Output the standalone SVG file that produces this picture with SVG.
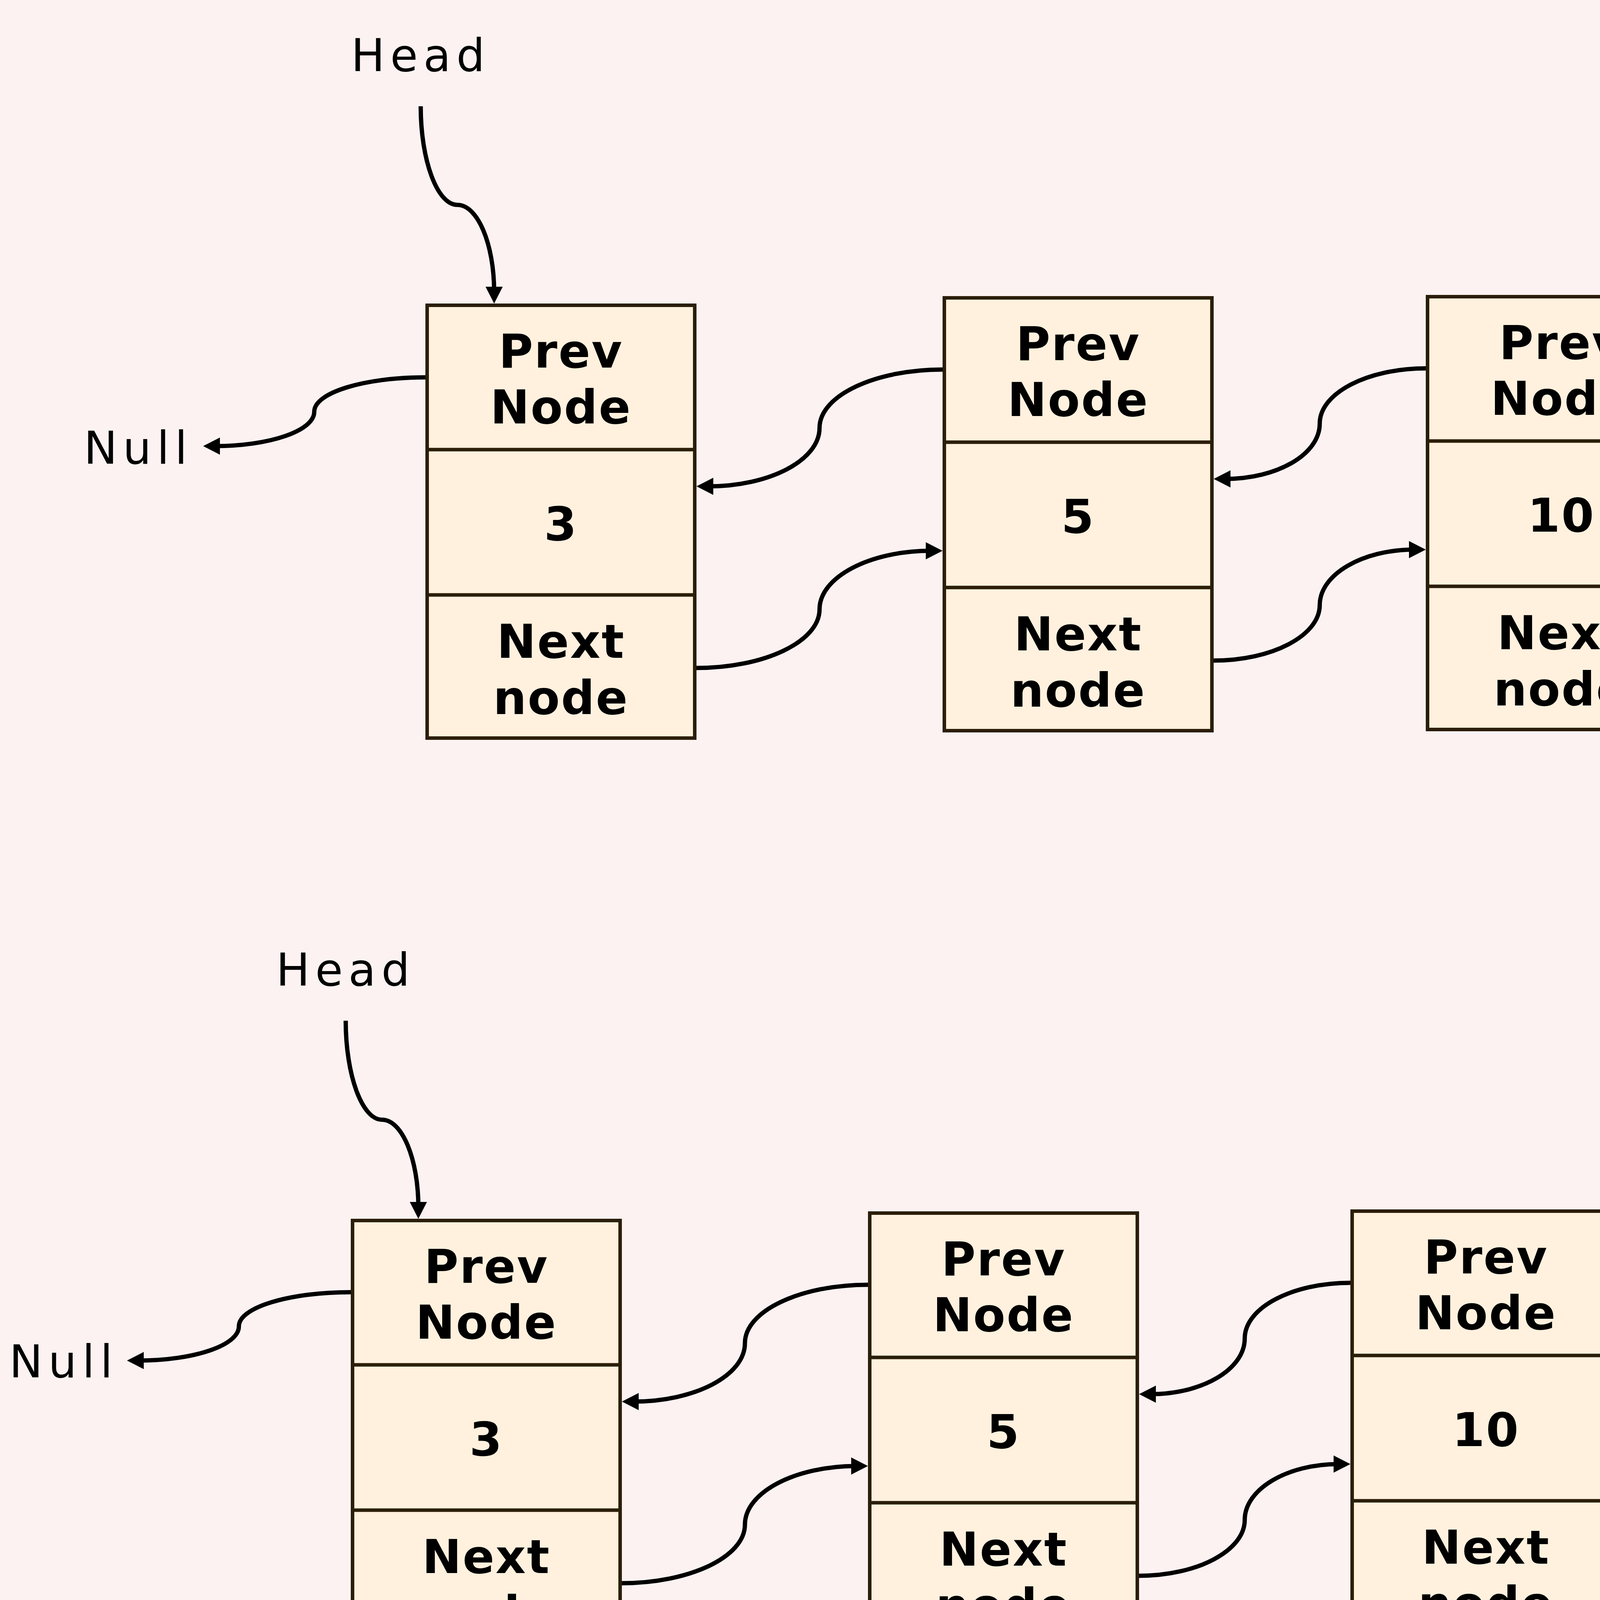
<svg xmlns="http://www.w3.org/2000/svg" width="7452" height="4242" viewBox="0 0 7452 4242">
<style>
.box{fill:#FFF1DE;stroke:#2B1E08;stroke-width:9}
.div{stroke:#2B1E08;stroke-width:9}
.t{font-family:"DejaVu Sans","Liberation Sans",sans-serif;font-weight:bold;font-size:120px;text-anchor:middle;fill:#000;letter-spacing:3px}
.lbl{font-family:"DejaVu Sans","Liberation Sans",sans-serif;font-size:115px;text-anchor:middle;fill:#000;letter-spacing:14px}
.c{fill:none;stroke:#000;stroke-width:11;marker-end:url(#ah)}
</style>
<defs>
<marker id="ah" markerUnits="userSpaceOnUse" markerWidth="43" markerHeight="44" refX="13" refY="22" orient="auto" overflow="visible">
<path d="M0,0 L43,22 L0,44 Z" fill="#000"/>
</marker>
</defs>
<rect x="0" y="0" width="7452" height="4242" fill="#FCF2F2"/>

<g id="labels">
<text class="lbl" x="1077" y="182">Head</text>
<text class="lbl" x="4953" y="227" style="letter-spacing:10px">Tail</text>
<text class="lbl" x="354" y="1187">Null</text>
<text class="lbl" x="6216" y="1490">Null</text>
<text class="lbl" x="885" y="2523">Head</text>
<text class="lbl" x="163" y="3526">Null</text>
<text class="lbl" x="6710" y="2343">enqueue(20)</text>
<text class="lbl" x="6664" y="2621" style="letter-spacing:10px">Tail</text>
<text class="lbl" x="7291" y="3767">Null</text>
</g>

<g id="top-node-1">
<rect class="box" x="1093.5" y="781.5" width="685" height="1108"/>
<line class="div" x1="1089" y1="1151" x2="1783" y2="1151"/>
<line class="div" x1="1089" y1="1523" x2="1783" y2="1523"/>
<text class="t" x="1436" y="941">Prev</text>
<text class="t" x="1436" y="1084">Node</text>
<text class="t" x="1436" y="1383">3</text>
<text class="t" x="1436" y="1684">Next</text>
<text class="t" x="1436" y="1828">node</text>
</g>
<g id="top-node-2">
<rect class="box" x="2417.5" y="762.5" width="685" height="1108"/>
<line class="div" x1="2413" y1="1132" x2="3107" y2="1132"/>
<line class="div" x1="2413" y1="1504" x2="3107" y2="1504"/>
<text class="t" x="2760" y="922">Prev</text>
<text class="t" x="2760" y="1065">Node</text>
<text class="t" x="2760" y="1364">5</text>
<text class="t" x="2760" y="1665">Next</text>
<text class="t" x="2760" y="1809">node</text>
</g>
<g id="top-node-3">
<rect class="box" x="3654.5" y="759.5" width="685" height="1108"/>
<line class="div" x1="3650" y1="1129" x2="4344" y2="1129"/>
<line class="div" x1="3650" y1="1501" x2="4344" y2="1501"/>
<text class="t" x="3997" y="919">Prev</text>
<text class="t" x="3997" y="1062">Node</text>
<text class="t" x="3997" y="1361">10</text>
<text class="t" x="3997" y="1662">Next</text>
<text class="t" x="3997" y="1806">node</text>
</g>
<g id="top-node-4">
<rect class="box" x="4897.5" y="739.5" width="685" height="1108"/>
<line class="div" x1="4893" y1="1109" x2="5587" y2="1109"/>
<line class="div" x1="4893" y1="1481" x2="5587" y2="1481"/>
<text class="t" x="5240" y="899">Prev</text>
<text class="t" x="5240" y="1042">Node</text>
<text class="t" x="5240" y="1341">14</text>
<text class="t" x="5240" y="1642">Next</text>
<text class="t" x="5240" y="1786">node</text>
</g>

<g id="bottom-node-1">
<rect class="box" x="902.5" y="3124.5" width="685" height="1108"/>
<line class="div" x1="898" y1="3494" x2="1592" y2="3494"/>
<line class="div" x1="898" y1="3866" x2="1592" y2="3866"/>
<text class="t" x="1245" y="3284">Prev</text>
<text class="t" x="1245" y="3427">Node</text>
<text class="t" x="1245" y="3726">3</text>
<text class="t" x="1245" y="4027">Next</text>
<text class="t" x="1245" y="4171">node</text>
</g>
<g id="bottom-node-2">
<rect class="box" x="2226.5" y="3105.5" width="685" height="1108"/>
<line class="div" x1="2222" y1="3475" x2="2916" y2="3475"/>
<line class="div" x1="2222" y1="3847" x2="2916" y2="3847"/>
<text class="t" x="2569" y="3265">Prev</text>
<text class="t" x="2569" y="3408">Node</text>
<text class="t" x="2569" y="3707">5</text>
<text class="t" x="2569" y="4008">Next</text>
<text class="t" x="2569" y="4152">node</text>
</g>
<g id="bottom-node-3">
<rect class="box" x="3461.5" y="3100.5" width="685" height="1108"/>
<line class="div" x1="3457" y1="3470" x2="4151" y2="3470"/>
<line class="div" x1="3457" y1="3842" x2="4151" y2="3842"/>
<text class="t" x="3804" y="3260">Prev</text>
<text class="t" x="3804" y="3403">Node</text>
<text class="t" x="3804" y="3702">10</text>
<text class="t" x="3804" y="4003">Next</text>
<text class="t" x="3804" y="4147">node</text>
</g>
<g id="bottom-node-4">
<rect class="box" x="4705.5" y="3079.5" width="685" height="1108"/>
<line class="div" x1="4701" y1="3449" x2="5395" y2="3449"/>
<line class="div" x1="4701" y1="3821" x2="5395" y2="3821"/>
<text class="t" x="5048" y="3239">Prev</text>
<text class="t" x="5048" y="3382">Node</text>
<text class="t" x="5048" y="3681">14</text>
<text class="t" x="5048" y="3982">Next</text>
<text class="t" x="5048" y="4126">node</text>
</g>
<g id="bottom-node-5">
<rect class="box" x="5992.5" y="3115.5" width="685" height="1108"/>
<line class="div" x1="5988" y1="3485" x2="6682" y2="3485"/>
<line class="div" x1="5988" y1="3857" x2="6682" y2="3857"/>
<text class="t" x="6335" y="3275">Prev</text>
<text class="t" x="6335" y="3418">Node</text>
<text class="t" x="6335" y="3717">20</text>
<text class="t" x="6335" y="4018">Next</text>
<text class="t" x="6335" y="4162">node</text>
</g>

<g id="connectors">
<path class="c" d="M1077 272 C1077 410.9 1119.3 524.5 1171 524.5 C1222.7 524.5 1265 624.6 1265 747"/>
<path class="c" d="M1089 966 C932.5 966 804.5 1005 804.5 1054 C804.5 1103 690 1142 550 1142"/>
<path class="c" d="M2413 946 C2239.8 946 2098 1012.7 2098 1095.5 C2098 1178.3 1969.8 1245 1813 1245"/>
<path class="c" d="M1783 1710 C1956.3 1710 2098 1642.5 2098 1560 C2098 1477.5 2226.3 1410 2383 1410"/>
<path class="c" d="M3650 943 C3500.7 943 3378.5 1006.1 3378.5 1084.5 C3378.5 1162.9 3269.8 1226 3137 1226"/>
<path class="c" d="M3107 1691 C3256.3 1691 3378.5 1627.1 3378.5 1549 C3378.5 1470.9 3487.2 1407 3620 1407"/>
<path class="c" d="M4893 923 C4742 923 4618.5 990 4618.5 1073 C4618.5 1156 4508.5 1223 4374 1223"/>
<path class="c" d="M4344 1688 C4495 1688 4618.5 1620.3 4618.5 1537.5 C4618.5 1454.7 4728.5 1387 4863 1387"/>
<path class="c" d="M4955 319 C4955 433.4 5019.1 527 5097.5 527 C5175.9 527 5240 607.1 5240 705"/>
<path class="c" d="M5587 1670 C5715.7 1670 5821 1634.5 5821 1591 C5821 1547.5 5912.8 1512 6025 1512"/>

<path class="c" d="M885 2613 C885 2752.4 926.9 2866.5 978 2866.5 C1029.2 2866.5 1071 2967.1 1071 3090"/>
<path class="c" d="M898 3308 C740.4 3308 611.5 3346.8 611.5 3395.5 C611.5 3444.2 496.1 3483 355 3483"/>
<path class="c" d="M2222 3289 C2048.8 3289 1907 3355.7 1907 3438.5 C1907 3521.3 1778.8 3588 1622 3588"/>
<path class="c" d="M1592 4053 C1765.3 4053 1907 3985.5 1907 3903 C1907 3820.5 2035.3 3753 2192 3753"/>
<path class="c" d="M3457 3284 C3308.2 3284 3186.5 3347.6 3186.5 3426.5 C3186.5 3505.4 3078.3 3569 2946 3569"/>
<path class="c" d="M2916 4034 C3064.8 4034 3186.5 3969.7 3186.5 3891 C3186.5 3812.4 3294.7 3748 3427 3748"/>
<path class="c" d="M4701 3263 C4549.8 3263 4426 3330.2 4426 3413.5 C4426 3496.8 4315.8 3564 4181 3564"/>
<path class="c" d="M4151 4029 C4302.3 4029 4426 3961 4426 3878 C4426 3795 4536.3 3727 4671 3727"/>
<path class="c" d="M5988 3299 C5824.9 3299 5691.5 3373.4 5691.5 3465.5 C5691.5 3557.6 5571.6 3632 5425 3632"/>
<path class="c" d="M5395 4008 C5558.1 4008 5691.5 3952.9 5691.5 3885.5 C5691.5 3818.1 5811.4 3763 5958 3763"/>
<path class="c" d="M6668 2710 C6668 2820.3 6553.7 2910.5 6414 2910.5 C6274.3 2910.5 6160 2987.2 6160 3081"/>
<path class="c" d="M6682 4039 C6805.5 4039 6906.5 3981.6 6906.5 3911.5 C6906.5 3841.4 6994 3784 7101 3784"/>
</g>
</svg>
